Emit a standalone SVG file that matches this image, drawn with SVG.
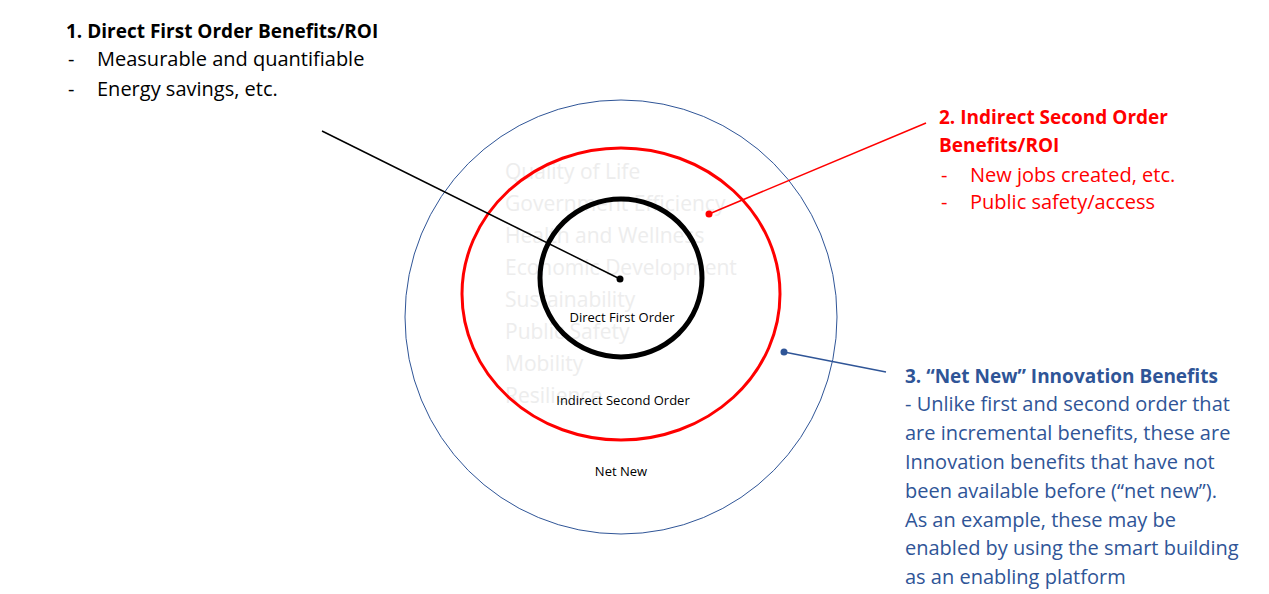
<svg xmlns="http://www.w3.org/2000/svg" width="1269" height="594" viewBox="0 0 1269 594">
<style>
text{font-family:"Open Sans","Liberation Sans",Arial,sans-serif}
.h{font-size:19px;font-weight:bold}
.b{font-size:20px}
.f{font-size:21px;fill:#ededed}
.s{font-size:13px;fill:#000}
.red{fill:#ff0000}
.blue{fill:#2f5597}
</style>
<rect width="1269" height="594" fill="#fff"/>
<g id="faded">
<text class="f" x="505" y="179">Quality of Life</text>
<text class="f" x="505" y="211">Government Efficiency</text>
<text class="f" x="505" y="243">Health and Wellness</text>
<text class="f" x="505" y="275">Economic Development</text>
<text class="f" x="505" y="307">Sustainability</text>
<text class="f" x="505" y="339">Public Safety</text>
<text class="f" x="505" y="371">Mobility</text>
<text class="f" x="505" y="403">Resilience</text>
</g>
<g id="outer"><ellipse cx="621" cy="317" rx="216" ry="217" fill="none" stroke="#2f5597" stroke-width="1"/><text class="s" x="621" y="476" text-anchor="middle">Net New</text></g>
<g id="middle"><ellipse cx="621" cy="294" rx="159" ry="146" fill="none" stroke="#ff0000" stroke-width="3"/><text class="s" x="623" y="405" text-anchor="middle">Indirect Second Order</text></g>
<g id="inner"><ellipse cx="621" cy="278" rx="81" ry="79" fill="none" stroke="#000" stroke-width="5"/><text class="s" x="622" y="322" text-anchor="middle">Direct First Order</text></g>
<g id="connectors">
<line x1="322" y1="131" x2="620" y2="279" stroke="#000" stroke-width="1.5"/><circle cx="620" cy="279" r="3.5" fill="#000"/>
<line x1="926" y1="123" x2="709" y2="214" stroke="#ff0000" stroke-width="1.5"/><circle cx="709" cy="214" r="3.5" fill="#ff0000"/>
<line x1="886" y1="372" x2="784" y2="352" stroke="#2f5597" stroke-width="1.5"/><circle cx="784" cy="352" r="3.5" fill="#2f5597"/>
</g>
<g id="label1">
<text class="h" x="66" y="38">1. Direct First Order Benefits/ROI</text>
<text class="b" x="68" y="66">-</text><text class="b" x="97" y="66">Measurable and quantifiable</text>
<text class="b" x="68" y="96">-</text><text class="b" x="97" y="96">Energy savings, etc.</text>
</g>
<g id="label2">
<text class="h red" x="939" y="124">2. Indirect Second Order</text>
<text class="h red" x="939" y="152">Benefits/ROI</text>
<text class="b red" x="941" y="182">-</text><text class="b red" x="970" y="182">New jobs created, etc.</text>
<text class="b red" x="941" y="209">-</text><text class="b red" x="970" y="209">Public safety/access</text>
</g>
<g id="label3">
<text class="h blue" x="905" y="383">3. “Net New” Innovation Benefits</text>
<text class="b blue" x="905" y="411">- Unlike first and second order that</text>
<text class="b blue" x="905" y="440">are incremental benefits, these are</text>
<text class="b blue" x="905" y="469">Innovation benefits that have not</text>
<text class="b blue" x="905" y="498">been available before (“net new”).</text>
<text class="b blue" x="905" y="527">As an example, these may be</text>
<text class="b blue" x="905" y="555">enabled by using the smart building</text>
<text class="b blue" x="905" y="584">as an enabling platform</text>
</g>
</svg>
